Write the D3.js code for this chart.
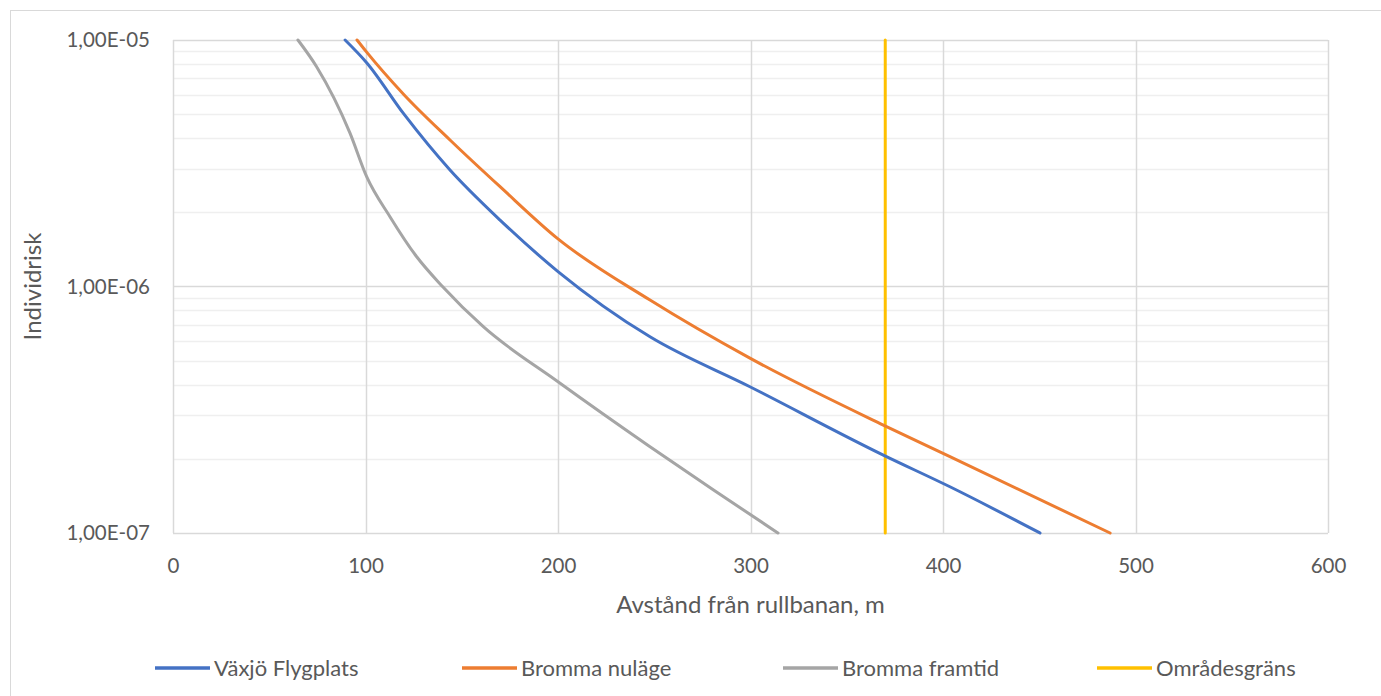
<!DOCTYPE html>
<html><head><meta charset="utf-8">
<script src="https://cdn.jsdelivr.net/npm/d3@7"></script>
<style>
html,body{margin:0;padding:0;background:#fff;overflow:hidden}
text{font-family:Lato,"Open Sans",sans-serif;fill:#595959}
</style></head>
<body>
<svg id="c" width="1381" height="696"></svg>
<script>
// Data
const vaxjoX  = [89.4, 100.6, 120, 143.9, 169.9, 200, 247.8, 299.7, 369, 403.6, 450.4];
const vaxjoY  = [1.0e-5, 8.09e-6, 5.0e-6, 2.97e-6, 1.86e-6, 1.15e-6, 6.25e-7, 3.92e-7, 2.07e-7, 1.54e-7, 1.0e-7];
const brommaNuX = [95.6, 100.4, 120, 143.9, 169.9, 200, 247.8, 299.7, 369, 403.6, 486.8];
const brommaNuY = [1.0e-5, 8.97e-6, 6.0e-6, 3.93e-6, 2.54e-6, 1.56e-6, 8.81e-7, 5.12e-7, 2.74e-7, 2.04e-7, 1.0e-7];
const brommaFrX = [64.9, 74.6, 91.9, 100.6, 112.7, 126.6, 140, 161.2, 200, 247.8, 281, 314.3];
const brommaFrY = [1.0e-5, 7.79e-6, 4.2e-6, 2.79e-6, 1.92e-6, 1.32e-6, 1.0e-6, 6.87e-7, 4.11e-7, 2.24e-7, 1.49e-7, 1.0e-7];
const omradeX = [370, 370];
const omradeY = [1.0e-5, 1.0e-7];
const seriesNames = ["Växjö Flygplats", "Bromma nuläge", "Bromma framtid", "Områdesgräns"];
const seriesColors = ["#4472C4", "#ED7D31", "#A5A5A5", "#FFC000"];
const xTicks = [0, 100, 200, 300, 400, 500, 600];
const yTicks = [1e-5, 1e-6, 1e-7];
const yTickLabels = ["1,00E-05", "1,00E-06", "1,00E-07"];
const xTitle = "Avstånd från rullbanan, m";
const yTitle = "Individrisk";

const svg = d3.select("#c");
const L = 173, R = 1328, T = 40, B = 533;
const x = d3.scaleLinear().domain([0, 600]).range([L, R]);
const y = d3.scaleLog().domain([1e-7, 1e-5]).range([B, T]);

// outer frame
svg.append("rect").attr("x", 10.5).attr("y", 10.5).attr("width", 1400).attr("height", 720)
  .attr("fill", "none").attr("stroke", "#d9d9d9").attr("stroke-width", 1);

// minor gridlines
const minor = [];
[1e-7, 1e-6].forEach(d => { for (let k = 2; k <= 9; k++) minor.push(d * k); });
svg.append("g").selectAll("line").data(minor).join("line")
  .attr("x1", L).attr("x2", R).attr("y1", d => Math.round(y(d)) + 0.5).attr("y2", d => Math.round(y(d)) + 0.5)
  .attr("stroke", "#efefef").attr("stroke-width", 1.5);

// major gridlines
svg.append("g").selectAll("line").data(yTicks).join("line")
  .attr("x1", L).attr("x2", R).attr("y1", d => Math.round(y(d)) + 0.5).attr("y2", d => Math.round(y(d)) + 0.5)
  .attr("stroke", "#d9d9d9").attr("stroke-width", 1.5);
svg.append("g").selectAll("line").data(xTicks).join("line")
  .attr("y1", T).attr("y2", B).attr("x1", d => Math.round(x(d)) + 0.5).attr("x2", d => Math.round(x(d)) + 0.5)
  .attr("stroke", "#d9d9d9").attr("stroke-width", 1.5);

// axis tick labels via d3 axes
const gx = svg.append("g").attr("transform", `translate(0,${B})`)
  .call(d3.axisBottom(x).tickValues(xTicks).tickSize(0).tickPadding(25).tickFormat(d3.format("d")));
gx.select(".domain").remove();
gx.selectAll("text").style("font-size", "20.5px").style("font-family", "Lato").attr("fill", "#595959");

const gy = svg.append("g").attr("transform", `translate(${L},0)`)
  .call(d3.axisLeft(y).tickValues(yTicks).tickSize(0).tickPadding(23)
    .tickFormat((d, i) => yTickLabels[i]));
gy.select(".domain").remove();
gy.selectAll("text").style("font-size", "20.5px").style("font-family", "Lato").attr("fill", "#595959");

// titles
svg.append("text").attr("x", (L + R) / 2).attr("y", 605).attr("dy", "0.35em").attr("text-anchor", "middle")
  .style("font-size", "24px").text(xTitle);
svg.append("text").attr("transform", `translate(33,${(T + B) / 2}) rotate(-90)`).attr("dy", "0.35em")
  .attr("text-anchor", "middle").style("font-size", "24px").text(yTitle);

// series
const series = [
  d3.zip(vaxjoX, vaxjoY),
  d3.zip(brommaNuX, brommaNuY),
  d3.zip(brommaFrX, brommaFrY),
  d3.zip(omradeX, omradeY)
];
const line = d3.line().x(d => x(d[0])).y(d => y(d[1])).curve(d3.curveMonotoneX);
const order = [3, 2, 0, 1];
order.forEach(i => {
  svg.append("path").datum(series[i]).attr("d", line)
    .attr("fill", "none").attr("stroke", seriesColors[i]).attr("stroke-width", 3)
    .attr("stroke-linecap", "round");
});

// legend
const legX = [155, 462, 783, 1097];
const lg = svg.append("g");
seriesNames.forEach((n, i) => {
  lg.append("line").attr("x1", legX[i]).attr("x2", legX[i] + 55).attr("y1", 668).attr("y2", 668)
    .attr("stroke", seriesColors[i]).attr("stroke-width", 3.5);
  lg.append("text").attr("x", legX[i] + 59).attr("y", 668).attr("dy", "0.35em")
    .style("font-size", "22px").text(n);
});
</script>
</body></html>
